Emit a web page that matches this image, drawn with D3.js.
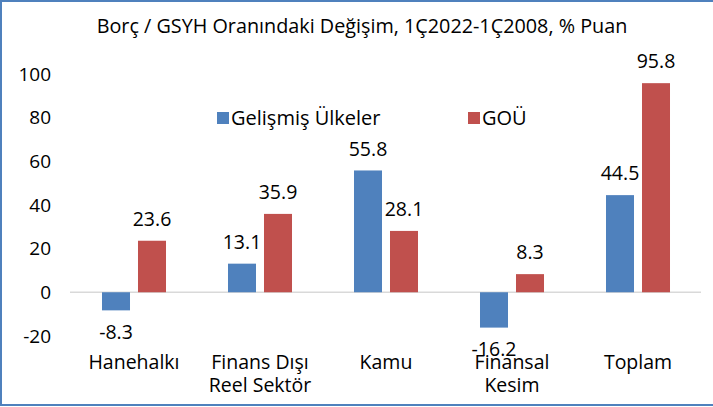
<!DOCTYPE html>
<html>
<head>
<meta charset="utf-8">
<script src="https://cdn.jsdelivr.net/npm/d3@7"></script>
<style>
  body { margin: 0; background: #fff; }
  text { font-family: "Open Sans", "Noto Sans", sans-serif; fill: #000; }
</style>
</head>
<body>
<div id="visual"></div>
<script>
var title = "Borç / GSYH Oranındaki Değişim, 1Ç2022-1Ç2008, % Puan";
var categories = [["Hanehalkı"], ["Finans Dışı", "Reel Sektör"], ["Kamu"], ["Finansal", "Kesim"], ["Toplam"]];
var seriesNames = ["Gelişmiş Ülkeler", "GOÜ"];
var developed = [-8.3, 13.1, 55.8, -16.2, 44.5];
var emerging = [23.6, 35.9, 28.1, 8.3, 95.8];
var yTicks = [-20, 0, 20, 40, 60, 80, 100];
var colors = ["#4F81BD", "#C0504D"];

var width = 713,
  height = 407;

var svg = d3
  .select("#visual")
  .append("svg")
  .attr("width", width)
  .attr("height", height);

// outer frame (right side is cut off in the picture)
svg
  .append("rect")
  .attr("x", 1)
  .attr("y", 1)
  .attr("width", 730)
  .attr("height", 404)
  .attr("fill", "none")
  .attr("stroke", "#4F81BD")
  .attr("stroke-width", 2);

// scales
var yScale = d3.scaleLinear().domain([-20, 100]).range([335.9, 74]);

var x0 = d3
  .scaleBand()
  .domain(d3.range(categories.length))
  .range([71, 701]);

var x1 = d3
  .scaleBand()
  .domain([0, 1])
  .range([0, x0.bandwidth()])
  .paddingInner(0.222)
  .paddingOuter(0.861);

// title
svg
  .append("text")
  .attr("x", 362)
  .attr("y", 33)
  .attr("text-anchor", "middle")
  .style("font-size", "19.8px")
  .text(title);

// y axis labels
svg
  .selectAll(".ytick")
  .data(yTicks)
  .enter()
  .append("text")
  .attr("class", "ytick")
  .attr("x", 51)
  .attr("y", d => yScale(d))
  .attr("dy", "0.35em")
  .attr("text-anchor", "end")
  .style("font-size", "19px")
  .text(d => d);

// zero line
svg
  .append("line")
  .attr("x1", 70)
  .attr("x2", 701)
  .attr("y1", yScale(0))
  .attr("y2", yScale(0))
  .attr("stroke", "#D9D9D9")
  .attr("stroke-width", 1.5);

//Build rows for both series
var rows = [];
[developed, emerging].forEach(function(vals, s) {
  vals.forEach(function(v, i) {
    rows.push({ cat: i, s: s, v: v });
  });
});

svg
  .selectAll(".bar")
  .data(rows)
  .enter()
  .append("rect")
  .attr("class", "bar")
  .attr("fill", d => colors[d.s])
  .attr("x", d => x0(d.cat) + x1(d.s))
  .attr("width", x1.bandwidth())
  .attr("y", d => yScale(Math.max(0, d.v)))
  .attr("height", d => Math.abs(yScale(d.v) - yScale(0)));

// data labels
svg
  .selectAll(".lbl")
  .data(rows)
  .enter()
  .append("text")
  .attr("class", "lbl")
  .attr("x", d => x0(d.cat) + x1(d.s) + x1.bandwidth() / 2)
  .attr("y", d => yScale(d.v) + (d.v < 0 ? 21.5 : -21.5))
  .attr("dy", "0.35em")
  .attr("text-anchor", "middle")
  .style("font-size", "19.5px")
  .text(d => d.v.toFixed(1));

// category labels
var cats = svg
  .selectAll(".cat")
  .data(categories)
  .enter()
  .append("text")
  .attr("class", "cat")
  .attr("text-anchor", "middle")
  .style("font-size", "19.5px");

cats
  .selectAll("tspan")
  .data((d, i) => d.map(t => ({ t: t, i: i })))
  .enter()
  .append("tspan")
  .attr("x", d => x0(d.i) + x0.bandwidth() / 2)
  .attr("y", (d, j) => 362.5 + j * 23)
  .attr("dy", "0.35em")
  .text(d => d.t);

// legend
var legendX = [217, 468];
var legend = svg
  .selectAll(".legend")
  .data(seriesNames)
  .enter()
  .append("g")
  .attr("class", "legend")
  .attr("transform", (d, i) => "translate(" + legendX[i] + ",118)");

legend
  .append("rect")
  .attr("x", 0)
  .attr("y", -6)
  .attr("width", 12)
  .attr("height", 12)
  .attr("fill", (d, i) => colors[i]);

legend
  .append("text")
  .attr("x", 14)
  .attr("y", 0)
  .attr("dy", "0.35em")
  .style("font-size", "20px")
  .text(d => d);
</script>
</body>
</html>
